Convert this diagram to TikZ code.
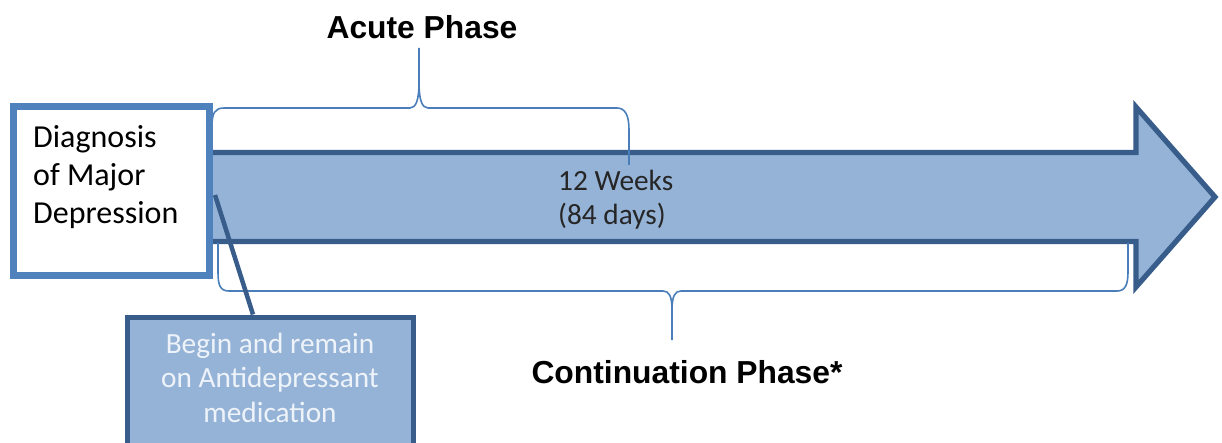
\documentclass[tikz,border=0pt]{standalone}
\usepackage{fontspec}
\setmainfont{Carlito}
\newfontfamily\headfont{Liberation Sans}
\definecolor{boxblue}{HTML}{4F81BD}
\definecolor{darkblue}{HTML}{385D8A}
\definecolor{fillblue}{HTML}{95B3D7}
\definecolor{bracecol}{HTML}{4A7EBB}
\definecolor{paletext}{HTML}{EEF3F9}
\tikzset{
  phaselabel/.style={inner sep=0pt, anchor=base, font=\headfont\bfseries\fontsize{31.8}{38}\selectfont},
  bodytext/.style={inner sep=0pt, font=\fontsize{32}{38}\selectfont},
  smalltext/.style={inner sep=0pt, font=\fontsize{29.3}{34.5}\selectfont},
  brace/.style={draw=bracecol, line width=1.6pt, line join=round},
  timeline/.style={draw=darkblue, fill=fillblue, line width=5.2pt, line join=miter},
}
\begin{document}
\begin{tikzpicture}[x=1pt, y=-1pt]
  \useasboundingbox (0,0) rectangle (1222,443);
  \clip (0,0) rectangle (1222,443);
  \fill[white] (0,0) rectangle (1222,443);

  % block arrow for the treatment timeline
  \draw[timeline] (195,152.5) -- (1136,152.5) -- (1136,107) -- (1215,197)
    -- (1136,287) -- (1136,241.5) -- (195,241.5) -- cycle;

  % brace over the acute phase
  \draw[brace] (212,150) -- (212,126) .. controls (212,113) and (215,108) .. (224,108)
    -- (410,108) .. controls (416,108) and (419,100) .. (419,82) -- (419,48)
    (419,82) .. controls (419,100) and (422,108) .. (428,108)
    -- (617,108) .. controls (625,108) and (629,115) .. (629,130) -- (629,165);

  % brace under the continuation phase
  \draw[brace] (218,243) -- (218,272) .. controls (218,285) and (220,291) .. (229,291)
    -- (663,291) .. controls (669,291) and (672,296) .. (672,310) -- (672,340)
    (672,310) .. controls (672,296) and (675,291) .. (681,291)
    -- (1117,291) .. controls (1125,291) and (1128,285) .. (1128,272) -- (1128,243);

  % boxes
  \node[draw=boxblue, fill=white, line width=4.8pt, minimum width=194pt, minimum height=167pt,
        anchor=north west, inner sep=0pt] (diag) at (12,105) {};
  \node[draw=darkblue, fill=fillblue, line width=5.2pt, minimum width=286pt, minimum height=160pt,
        anchor=north west, inner sep=0pt] (med) at (125,314.5) {};

  % connector from the start of the timeline to the medication box
  \coordinate (start) at (215,195);
  \draw[darkblue, line width=4.5pt] (start) -- (med.north west -| 253,0);

  % redraw the diagnosis box outline over the connector start
  \draw[boxblue, line width=4.8pt] (diag.north west) rectangle (diag.south east);

  % texts (the base anchor of a multi-line node sits on its last line)
  \node[bodytext, anchor=base west, align=left] (diagtext) at (33,224)
    {Diagnosis\\of Major\\Depression};
  \node[smalltext, anchor=base west, align=left, text=black!85] (weeks) at (558,225)
    {12 Weeks\\(84 days)};
  \node[smalltext, anchor=base, align=center, text=paletext] (medtext) at (270,422)
    {Begin and remain\\on Antidepressant\\medication};
  \node[phaselabel] (acute) at (422,39) {Acute Phase};
  \node[phaselabel] (cont) at (687,383) {Continuation Phase*};
\end{tikzpicture}
\end{document}
